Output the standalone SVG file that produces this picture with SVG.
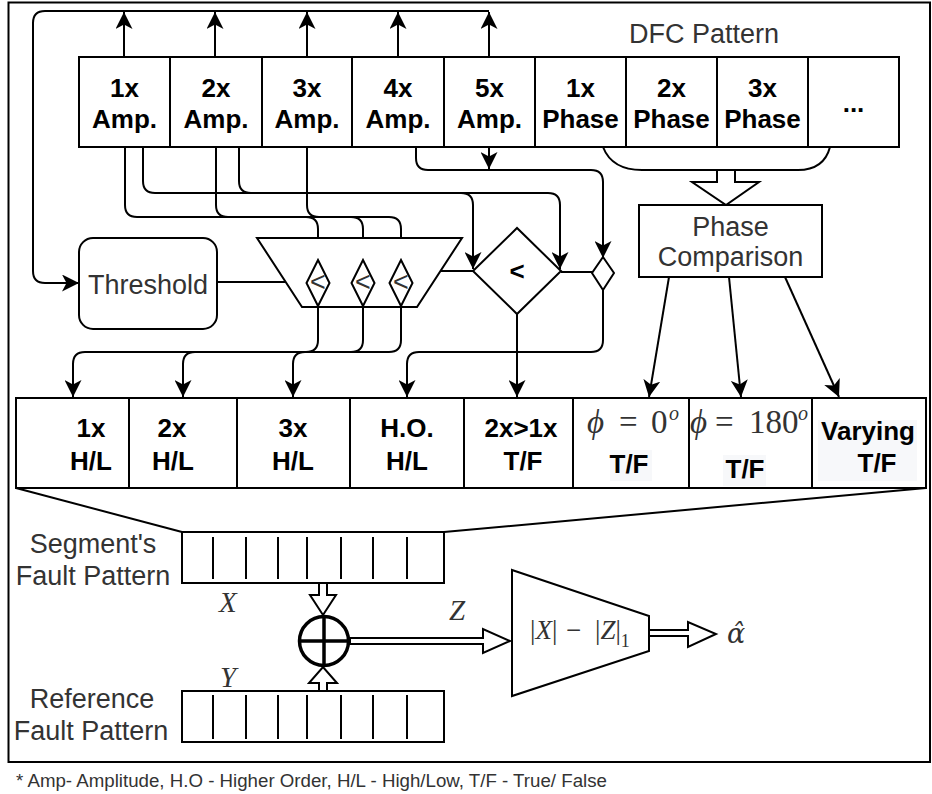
<svg xmlns="http://www.w3.org/2000/svg" width="932" height="794" viewBox="0 0 932 794">
<style>
.ln{fill:none;stroke:#000;stroke-width:2}
.bx{fill:#fff;stroke:#000;stroke-width:2}
.arr{fill:none;stroke:#000;stroke-width:2;marker-end:url(#ah)}
.b{font-family:"Liberation Sans",Arial,sans-serif;font-weight:bold;font-size:26px;fill:#000;text-anchor:middle}
.r{font-family:"Liberation Sans",Arial,sans-serif;font-size:27px;fill:#333;text-anchor:middle}
.m{font-family:"Liberation Serif","DejaVu Serif",serif;fill:#333}
.hl{fill:#f7f8fa;stroke:none}
</style>
<defs>
<marker id="ah" viewBox="0 0 17 17" refX="17" refY="8.5" markerWidth="17" markerHeight="17" markerUnits="userSpaceOnUse" orient="auto">
<path d="M0,0 L17,8.5 L0,17 L4.5,8.5 Z" fill="#000"/>
</marker>
</defs>
<rect x="8.5" y="2.5" width="921.5" height="759.5" fill="#fff" stroke="#000" stroke-width="2"/>

<g id="connectors">
<path class="arr" d="M124,57 V12"/>
<path class="arr" d="M215,57 V12"/>
<path class="arr" d="M307,57 V12"/>
<path class="arr" d="M398,57 V12"/>
<path class="arr" d="M489,57 V12"/>
<path class="arr" d="M489,11 H45 Q33,11 33,23 V271 Q33,283 45,283 H79"/>
<path class="ln" d="M217,282 H285"/>
<path class="arr" d="M143,147 V181 Q143,193 155,193 H461 Q473,193 473,205 V269"/>
<path class="arr" d="M239,147 V181 Q239,193 251,193 H548 Q560,193 560,205 V269"/>
<path class="arr" d="M125,147 V205 Q125,217 137,217 H306 Q318,217 318,229 V260"/>
<path class="arr" d="M216,147 V205 Q216,217 228,217 H351 Q363,217 363,229 V260"/>
<path class="arr" d="M307,147 V205 Q307,217 319,217 H389 Q401,217 401,229 V260"/>
<path class="arr" d="M416,147 V158 Q416,170 428,170 H591 Q603,170 603,182 V258"/>
<path class="arr" d="M489,147 V169"/>
<path class="ln" d="M441,271 H473"/>
<path class="ln" d="M561,272 H592"/>
<path class="arr" d="M318,306 V340 Q318,352 306,352 H85 Q73,352 73,364 V397"/>
<path class="arr" d="M363,306 V340 Q363,352 351,352 H195 Q183,352 183,364 V397"/>
<path class="arr" d="M401,306 V340 Q401,352 389,352 H305 Q293,352 293,364 V397"/>
<path class="arr" d="M603,290 V340 Q603,352 591,352 H419 Q407,352 407,364 V397"/>
<path class="arr" d="M517,314 V397"/>
<path class="ln" d="M603,147 Q612,170 642,170 H798 Q824,170 830,147"/>
<polygon class="bx" points="717,170 735,170 735,182 759,182 726,205 692,182 717,182"/>
<path class="arr" d="M669,277 L649,397"/>
<path class="arr" d="M729,277 L741,397"/>
<path class="arr" d="M785,277 L839,397"/>
<path class="ln" d="M16,488 L182,532"/>
<path class="ln" d="M926,488 L444,532"/>
<polygon class="bx" points="319,583 327,583 327,595 336,595 323,615 310,595 319,595"/>
<polygon class="bx" points="319,691 327,691 327,683 337,683 323,667 309,683 319,683"/>
<polygon class="bx" points="350,638 483,638 483,629 510,641 483,653 483,644 350,644"/>
<polygon class="bx" points="649,630 688,630 688,622 716,634 688,647 688,636 649,636"/>
</g>

<g id="dfc-pattern">
<text class="r" x="704" y="43" font-size="26">DFC Pattern</text>
<rect class="bx" x="79" y="57" width="820" height="90"/>
<path class="ln" d="M170,57 V147 M262,57 V147 M352,57 V147 M444,57 V147 M535,57 V147 M626,57 V147 M717,57 V147 M808,57 V147"/>
<text class="b" x="124.5" y="97">1x</text><text class="b" x="124.5" y="128">Amp.</text>
<text class="b" x="216" y="97">2x</text><text class="b" x="216" y="128">Amp.</text>
<text class="b" x="307" y="97">3x</text><text class="b" x="307" y="128">Amp.</text>
<text class="b" x="398" y="97">4x</text><text class="b" x="398" y="128">Amp.</text>
<text class="b" x="489.5" y="97">5x</text><text class="b" x="489.5" y="128">Amp.</text>
<text class="b" x="580.5" y="97">1x</text><text class="b" x="580.5" y="128">Phase</text>
<text class="b" x="671.5" y="97">2x</text><text class="b" x="671.5" y="128">Phase</text>
<text class="b" x="762.5" y="97">3x</text><text class="b" x="762.5" y="128">Phase</text>
<text class="b" x="853.5" y="112">...</text>
</g>

<g id="threshold">
<rect class="bx" x="79" y="238" width="138" height="91" rx="14"/>
<text class="r" x="148" y="294">Threshold</text>
</g>

<g id="comparator-bank">
<polygon class="bx" points="257,238 462,238 417,307 302,307"/>
<g id="cmp1"><polygon class="bx" points="318,260 329.5,283 318,306 306.5,283"/><text class="r" x="318" y="291" font-size="22" fill="#555">&lt;</text></g>
<g id="cmp2"><polygon class="bx" points="363,260 374.5,283 363,306 351.5,283"/><text class="r" x="363" y="291" font-size="22" fill="#555">&lt;</text></g>
<g id="cmp3"><polygon class="bx" points="401,260 412.5,283 401,306 389.5,283"/><text class="r" x="401" y="291" font-size="22" fill="#555">&lt;</text></g>
</g>

<g id="compare-2x-1x">
<polygon class="bx" points="473,271 517,228 561,271 517,314"/>
<text class="b" x="517" y="280">&lt;</text>
</g>

<g id="ho-join">
<polygon class="bx" points="603,257 614,273 603,290 592,273"/>
</g>

<g id="phase-comparison">
<rect class="bx" x="639" y="205" width="183" height="72"/>
<text class="r" x="730.5" y="236">Phase</text>
<text class="r" x="730.5" y="266">Comparison</text>
</g>

<g id="fault-table">
<rect class="bx" x="16" y="398" width="910" height="90"/>
<path class="ln" d="M129,398 V488 M237,398 V488 M350,398 V488 M464,398 V488 M573,398 V488 M689,398 V488 M812,398 V488"/>
<rect class="hl" x="610" y="450" width="42" height="31"/>
<rect class="hl" x="723" y="455" width="43" height="31"/>
<rect class="hl" x="818" y="420" width="99" height="61"/>
<text class="b" x="91" y="437">1x</text><text class="b" x="91" y="470">H/L</text>
<text class="b" x="172" y="437">2x</text><text class="b" x="173" y="470">H/L</text>
<text class="b" x="293" y="437">3x</text><text class="b" x="293" y="470">H/L</text>
<text class="b" x="407" y="437">H.O.</text><text class="b" x="407" y="470">H/L</text>
<text class="b" x="521" y="437">2x&gt;1x</text><text class="b" x="523" y="470">T/F</text>
<text class="m" y="433" font-size="33"><tspan x="587" font-style="italic">ϕ</tspan><tspan x="619">=</tspan><tspan x="651">0</tspan><tspan x="669" y="420" font-size="20" font-style="italic">o</tspan></text>
<text class="b" x="629" y="473">T/F</text>
<text class="m" y="433" font-size="33"><tspan x="690" font-style="italic">ϕ</tspan><tspan x="715">=</tspan><tspan x="749">180</tspan><tspan x="798" y="420" font-size="20" font-style="italic">o</tspan></text>
<text class="b" x="745" y="478">T/F</text>
<text class="b" x="868" y="440">Varying</text><text class="b" x="877" y="472">T/F</text>
</g>

<g id="segment-pattern">
<text class="r" x="93" y="553">Segment's</text>
<text class="r" x="93" y="585">Fault Pattern</text>
<rect class="bx" x="182" y="532" width="262" height="51"/>
<path class="ln" d="M213,537 V579 M246,537 V579 M278,537 V579 M307,537 V579 M341,537 V579 M373,537 V579 M407,537 V579"/>
</g>

<g id="reference-pattern">
<text class="r" x="92" y="708">Reference</text>
<text class="r" x="91" y="740">Fault Pattern</text>
<rect class="bx" x="182" y="691" width="262" height="51"/>
<path class="ln" d="M213,695 V739 M246,695 V739 M278,695 V739 M307,695 V739 M341,695 V739 M373,695 V739 M407,695 V739"/>
</g>

<g id="xor">
<circle cx="324" cy="641" r="24.5" fill="#fff" stroke="#000" stroke-width="3.5"/>
<path d="M324,616.5 V665.5 M299.5,641 H348.5" stroke="#000" stroke-width="3.5"/>
</g>

<g id="l1-distance">
<polygon class="bx" points="512,570 649,616 649,651 512,696"/>
<text class="m" y="639" font-size="27"><tspan x="530">|</tspan><tspan font-style="italic">X</tspan><tspan>|</tspan><tspan x="566">−</tspan><tspan x="595">|</tspan><tspan font-style="italic">Z</tspan><tspan>|</tspan><tspan font-size="18" dy="8">1</tspan></text>
</g>

<g id="labels">
<text class="m" x="219" y="612" font-size="29" font-style="italic">X</text>
<text class="m" x="220" y="687" font-size="29" font-style="italic">Y</text>
<text class="m" x="449" y="620" font-size="29" font-style="italic">Z</text>
<text x="727" y="643" font-family="'DejaVu Serif',serif" font-size="27" font-style="italic" fill="#333">α̂</text>
</g>

<text x="16" y="787" font-family="'Liberation Sans',Arial,sans-serif" font-size="18.7" fill="#333">* Amp- Amplitude, H.O - Higher Order, H/L - High/Low, T/F - True/ False</text>
</svg>
